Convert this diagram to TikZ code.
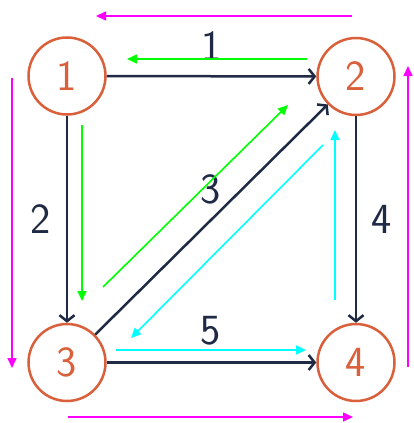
\documentclass[tikz,border=0pt]{standalone}
\usetikzlibrary{arrows.meta}
\definecolor{nodeor}{HTML}{D9603B}
\definecolor{navy}{HTML}{1F2A44}
\definecolor{mygreen}{HTML}{00FF00}
\definecolor{mycyan}{HTML}{00FFFF}
\definecolor{mymag}{HTML}{FF00FF}
\begin{document}
\begin{tikzpicture}[x=1pt,y=-1pt,
  vert/.style={circle, draw=nodeor, line width=2.5pt, minimum size=77pt, inner sep=0pt,
    text=nodeor, font=\sffamily\fontsize{43}{43}\selectfont},
  dedge/.style={draw=navy, line width=2.5pt, -{Straight Barb[length=6pt,width=15pt]}},
  lbl/.style={text=navy, font=\sffamily\fontsize{43}{43}\selectfont, inner sep=0pt},
  hint/.style={line width=1.6pt, -{Triangle[length=10pt,width=9pt]}}]
\useasboundingbox (0,0) rectangle (413,423);
\fill[white] (0,0) rectangle (413,423);
\node[vert] (n1) at (67,76) {1};
\node[vert] (n2) at (356,76.5) {2};
\node[vert] (n3) at (67,362.5) {3};
\node[vert] (n4) at (356,362.5) {4};
\draw[dedge] (n1) -- (n2);
\draw[dedge] (n1) -- (n3);
\draw[dedge] (n2) -- (n4);
\draw[dedge] (n3) -- (n4);
\draw[dedge] (n3) -- (n2);
\node[lbl] (l1) at (212,46) {1};
\node[lbl] (l2) at (41,219) {2};
\node[lbl] (l3) at (211,189) {3};
\node[lbl] (l4) at (382,219) {4};
\node[lbl] (l5) at (211,331) {5};
% green
\coordinate (g1a) at (307,59); \coordinate (g1b) at (127,59);
\coordinate (g2a) at (82,125); \coordinate (g2b) at (82,301);
\coordinate (g3a) at (103,287); \coordinate (g3b) at (288,105);
\draw[hint, draw=mygreen, fill=mygreen] (g1a) -- (g1b);
\draw[hint, draw=mygreen, fill=mygreen] (g2a) -- (g2b);
\draw[hint, draw=mygreen, fill=mygreen] (g3a) -- (g3b);
% cyan
\coordinate (c1a) at (335,300); \coordinate (c1b) at (335,130);
\coordinate (c2a) at (323,145); \coordinate (c2b) at (131,338);
\coordinate (c3a) at (116,350); \coordinate (c3b) at (306,350);
\draw[hint, draw=mycyan, fill=mycyan] (c1a) -- (c1b);
\draw[hint, draw=mycyan, fill=mycyan] (c2a) -- (c2b);
\draw[hint, draw=mycyan, fill=mycyan] (c3a) -- (c3b);
% magenta
\coordinate (m1a) at (352,16); \coordinate (m1b) at (96,16);
\coordinate (m2a) at (12,78); \coordinate (m2b) at (12,368);
\coordinate (m3a) at (68,417); \coordinate (m3b) at (353,417);
\coordinate (m4a) at (408,367); \coordinate (m4b) at (408,66);
\draw[hint, draw=mymag, fill=mymag] (m1a) -- (m1b);
\draw[hint, draw=mymag, fill=mymag] (m2a) -- (m2b);
\draw[hint, draw=mymag, fill=mymag] (m3a) -- (m3b);
\draw[hint, draw=mymag, fill=mymag] (m4a) -- (m4b);
\end{tikzpicture}
\end{document}
